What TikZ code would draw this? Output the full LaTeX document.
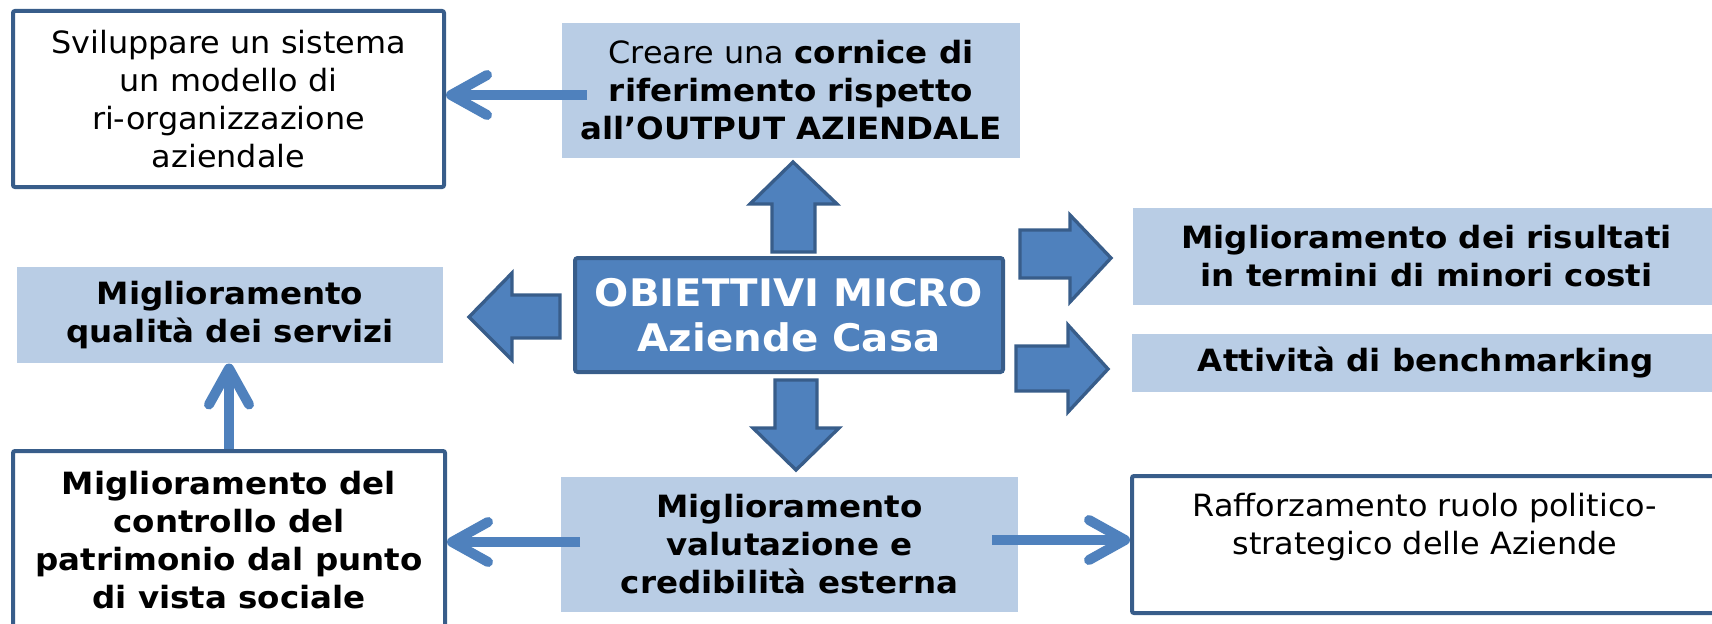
\documentclass[tikz,border=0pt]{standalone}
\usepackage{fontspec}
\setmainfont{DejaVu Sans}[FakeStretch=1.04, BoldFeatures={FakeStretch=1.06}]
\usetikzlibrary{arrows.meta}

\definecolor{boxfill}{RGB}{185,205,229}
\definecolor{arrowblue}{RGB}{79,129,189}
\definecolor{arrowedge}{RGB}{56,93,138}

\tikzset{every picture/.style={line width=0.75pt},
  bodytext/.style={font=\fontsize{23}{28.5}\selectfont, align=center, text=black, inner sep=0.75pt},
  lightbox/.style={bodytext, fill=boxfill, draw=none},
  whitebox/.style={bodytext, fill=white, draw=arrowedge, line width=3pt, rounded corners=1.5pt},
  mainbox/.style={fill=arrowblue, draw=arrowedge, line width=3pt, rounded corners=2pt, text=white, align=center, inner sep=0.75pt, font=\fontsize{28.5}{33.75}\selectfont\bfseries},
  blockarrow/.style={fill=arrowblue, draw=arrowedge, line width=2.5pt, line join=miter},
  linkarrow/.style={draw=arrowblue, line width=7.5pt, -{Straight Barb[length=27pt,width=30pt,round]}},
}

\begin{document}
\begin{tikzpicture}[x=0.75pt,y=0.75pt,yscale=-1,xscale=1]
\useasboundingbox (0,0) rectangle (1712,624);

% Boxes
\node[whitebox, minimum width=323.25pt, minimum height=132pt] (sistema) at (228.5,99) {Sviluppare un sistema\\un modello di\\ri-organizzazione\\aziendale};
\node[lightbox, minimum width=343.5pt, minimum height=101.25pt] (cornice) at (791,90.5) {Creare una \textbf{cornice di}\\\textbf{riferimento rispetto}\\\textbf{all’OUTPUT AZIENDALE}};
\node[mainbox, minimum width=321pt, minimum height=85.5pt] (micro) at (789,315) {OBIETTIVI MICRO\\Aziende Casa};
\node[lightbox, font=\fontsize{23}{28.5}\selectfont\bfseries, minimum width=440.25pt, minimum height=72.75pt] (costi) at (1426.5,256.5) {Miglioramento dei risultati\\in termini di minori costi};
\node[lightbox, font=\fontsize{23}{28.5}\selectfont\bfseries, minimum width=441pt, minimum height=43.5pt] (bench) at (1426,363) {Attività di benchmarking};
\node[lightbox, font=\fontsize{23}{28.5}\selectfont\bfseries, minimum width=319.5pt, minimum height=72pt] (qualita) at (230,315) {Miglioramento\\qualità dei servizi};
\node[whitebox, font=\fontsize{23}{28.5}\selectfont\bfseries, minimum width=324pt, minimum height=134.25pt] (controllo) at (229,540.5) {Miglioramento del\\controllo del\\patrimonio dal punto\\di vista sociale};
\node[lightbox, font=\fontsize{23}{28.5}\selectfont\bfseries, minimum width=342.75pt, minimum height=101.25pt] (valutazione) at (789.5,544.5) {Miglioramento\\valutazione e\\credibilità esterna};
\node[whitebox, minimum width=441pt, minimum height=102.75pt] (raff) at (1426,544.5) {};
\node[bodytext] (rafftext) at (1425,527) {Rafforzamento ruolo politico-\\strategico delle Aziende};

%Shape: Up Arrow
\draw[blockarrow] (772,252) -- (772,204) -- (750,204) -- (793,162) -- (837,204) -- (815,204) -- (815,252) -- cycle;
%Shape: Down Arrow
\draw[blockarrow] (775,380) -- (775,428) -- (753,428) -- (796,470) -- (839,428) -- (817,428) -- (817,380) -- cycle;
%Shape: Right Arrow
\draw[blockarrow] (1020,230) -- (1070,230) -- (1070,215) -- (1111,258) -- (1070,302) -- (1070,278) -- (1020,278) -- cycle;
%Shape: Right Arrow
\draw[blockarrow] (1016,346) -- (1068,346) -- (1068,325) -- (1108,369) -- (1068,412) -- (1068,391) -- (1016,391) -- cycle;
%Shape: Left Arrow
\draw[blockarrow] (560,295) -- (512,295) -- (512,273) -- (469,317) -- (512,360) -- (512,338) -- (560,338) -- cycle;

% Line arrows
\coordinate (c1) at (587,95);
\draw[linkarrow] (c1) -- (c1 -| sistema.east);
\draw[linkarrow] (controllo.north) -- (controllo.north |- qualita.south);
\coordinate (c2) at (580,542);
\draw[linkarrow] (c2) -- (c2 -| controllo.east);
\coordinate (c3) at (992,540);
\draw[linkarrow] (c3) -- (c3 -| raff.west);

\end{tikzpicture}
\end{document}
